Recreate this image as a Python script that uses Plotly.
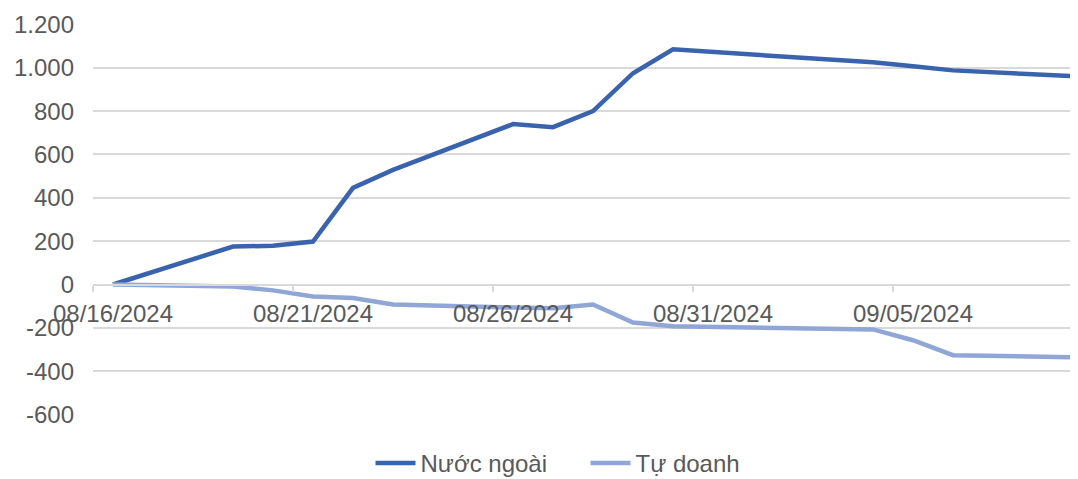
import plotly.graph_objects as go

dates = ["2024-08-16", "2024-08-19", "2024-08-20", "2024-08-21", "2024-08-22",
         "2024-08-23", "2024-08-26", "2024-08-27", "2024-08-28", "2024-08-29",
         "2024-08-30", "2024-09-04", "2024-09-05", "2024-09-06", "2024-09-09"]
nuoc_ngoai = [0, 175, 179, 198, 446, 529, 740, 726, 800, 975, 1085, 1025, 1007, 988, 961]
tu_doanh = [0, -9, -27, -55, -62, -92, -106, -110, -92, -175, -193, -207, -257, -326, -336]

x_tickvals = ["2024-08-16", "2024-08-21", "2024-08-26", "2024-08-31", "2024-09-05"]
y_tickvals = [-600, -400, -200, 0, 200, 400, 600, 800, 1000, 1200]
y_ticktext = ["-600", "-400", "-200", "0", "200", "400", "600", "800", "1.000", "1.200"]

FONT = "Liberation Sans, Arial, sans-serif"
GRAY = "#595959"
GRID = "#d9d9d9"

fig = go.Figure()
fig.add_trace(go.Scatter(x=dates, y=nuoc_ngoai, mode="lines", name="Nước ngoài",
                         line=dict(color="#3A63AD", width=4.5)))
fig.add_trace(go.Scatter(x=dates, y=tu_doanh, mode="lines", name="Tự doanh",
                         line=dict(color="#8FA6D7", width=4.5)))

fig.update_layout(
    width=1070, height=471,
    margin=dict(l=85, r=0, t=16, b=64, autoexpand=False),
    paper_bgcolor="white", plot_bgcolor="white",
    font=dict(family=FONT, size=24, color=GRAY),
    showlegend=True,
    legend=dict(orientation="h", x=0.5, xanchor="center", y=-0.066, yanchor="top",
                font=dict(size=24, color=GRAY), itemwidth=40,
                entrywidth=160, entrywidthmode="pixels"),
    xaxis=dict(
        type="date",
        range=["2024-08-15 12:00", "2024-09-09 03:00"],
        tickvals=x_tickvals, tickformat="%m/%d/%Y",
        anchor="free", position=0.3325,
        automargin=False,
        showgrid=False, zeroline=False,
        showline=True, linecolor=GRID, linewidth=1.5,
        ticks="", ticklabelstandoff=7,
        minor=dict(ticks="outside", ticklen=6, tickcolor=GRID, tickwidth=1.5,
                   tick0="2024-08-15 12:00", dtick=5 * 86400000, showgrid=False),
        tickfont=dict(size=24, color=GRAY),
    ),
    yaxis=dict(
        range=[-602, 1202],
        tickvals=y_tickvals, ticktext=y_ticktext,
        automargin=False,
        showgrid=True, gridcolor=GRID, gridwidth=1.5,
        zeroline=False, showline=False, ticks="",
        ticklabelstandoff=18,
        tickfont=dict(size=24, color=GRAY),
    ),
)

fig.write_html("out.html")
